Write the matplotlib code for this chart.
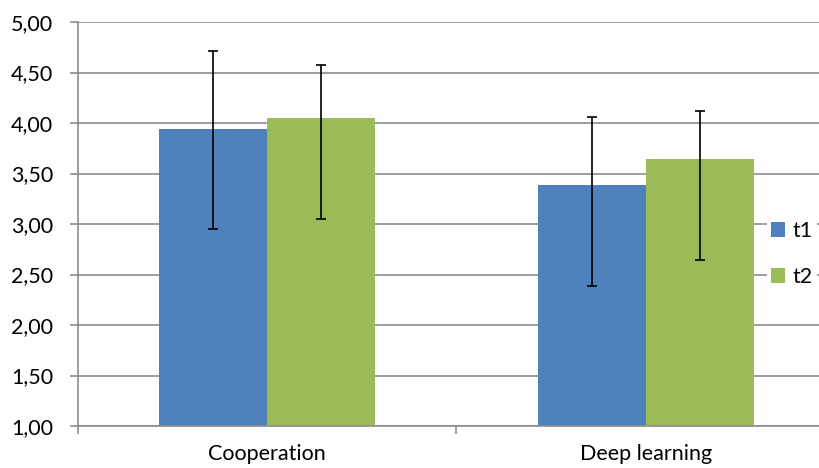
import matplotlib
matplotlib.use("Agg")
import matplotlib.pyplot as plt
import numpy as np

categories = ["Cooperation", "Deep learning"]
series = ["t1", "t2"]
t1_mean = [3.94, 3.39]
t2_mean = [4.05, 3.64]
# asymmetric error bars (minus, plus)
t1_err_lo = [0.99, 1.00]
t1_err_hi = [0.77, 0.67]
t2_err_lo = [1.00, 1.00]
t2_err_hi = [0.52, 0.48]
yticks = [1.0, 1.5, 2.0, 2.5, 3.0, 3.5, 4.0, 4.5, 5.0]

colors = ["#4F81BD", "#9BBB59"]
grid_col = "#8C8C8C"
fs = 15.5

plt.rcParams["font.family"] = ["Lato", "DejaVu Sans"]

fig = plt.figure(figsize=(8.2, 4.68), dpi=100)
ax = fig.add_axes([78 / 820, 42 / 468, 757 / 820, 404 / 468])

x = np.arange(len(categories))
w = 0.285
for k, (vals, lo, hi) in enumerate([(t1_mean, t1_err_lo, t1_err_hi),
                                    (t2_mean, t2_err_lo, t2_err_hi)]):
    pos = x + (k - 0.5) * w
    ax.bar(pos, np.array(vals) - 1.0, bottom=1.0, width=w, color=colors[k],
           label=series[k], zorder=2)
    ax.errorbar(pos, vals, yerr=[lo, hi], fmt="none", ecolor="black",
                elinewidth=1.2, capsize=3.8, capthick=1.2, zorder=3)

ax.set_xlim(-0.5, 1.5)
ax.set_ylim(1.0, 5.0)
ax.set_yticks(yticks)
ax.set_yticklabels([f"{v:.2f}".replace(".", ",") for v in yticks])
ax.yaxis.grid(True, color=grid_col, linewidth=1.2, zorder=0)
ax.set_axisbelow(True)

ax.set_xticks(x)
ax.set_xticklabels(categories)
ax.set_xticks([-0.5, 0.5, 1.5], minor=True)
ax.tick_params(axis="x", which="major", length=0, pad=13, labelsize=fs, colors="black")
ax.tick_params(axis="x", which="minor", length=6, width=1.2, color=grid_col)
ax.tick_params(axis="y", length=6, width=1.2, color=grid_col, pad=12,
               labelsize=fs, labelcolor="black")

for s in ["top", "right"]:
    ax.spines[s].set_visible(False)
for s in ["left", "bottom"]:
    ax.spines[s].set_color(grid_col)
    ax.spines[s].set_linewidth(1.2)

leg = ax.legend(loc="center left", bbox_to_anchor=(689 / 757, 172 / 404),
                frameon=True, facecolor="white", edgecolor="none", framealpha=1,
                fontsize=fs, handlelength=0.65, handleheight=0.65,
                handletextpad=0.35, labelspacing=1.2, borderpad=0.2,
                borderaxespad=0)

fig.savefig("out.png", dpi=100)
